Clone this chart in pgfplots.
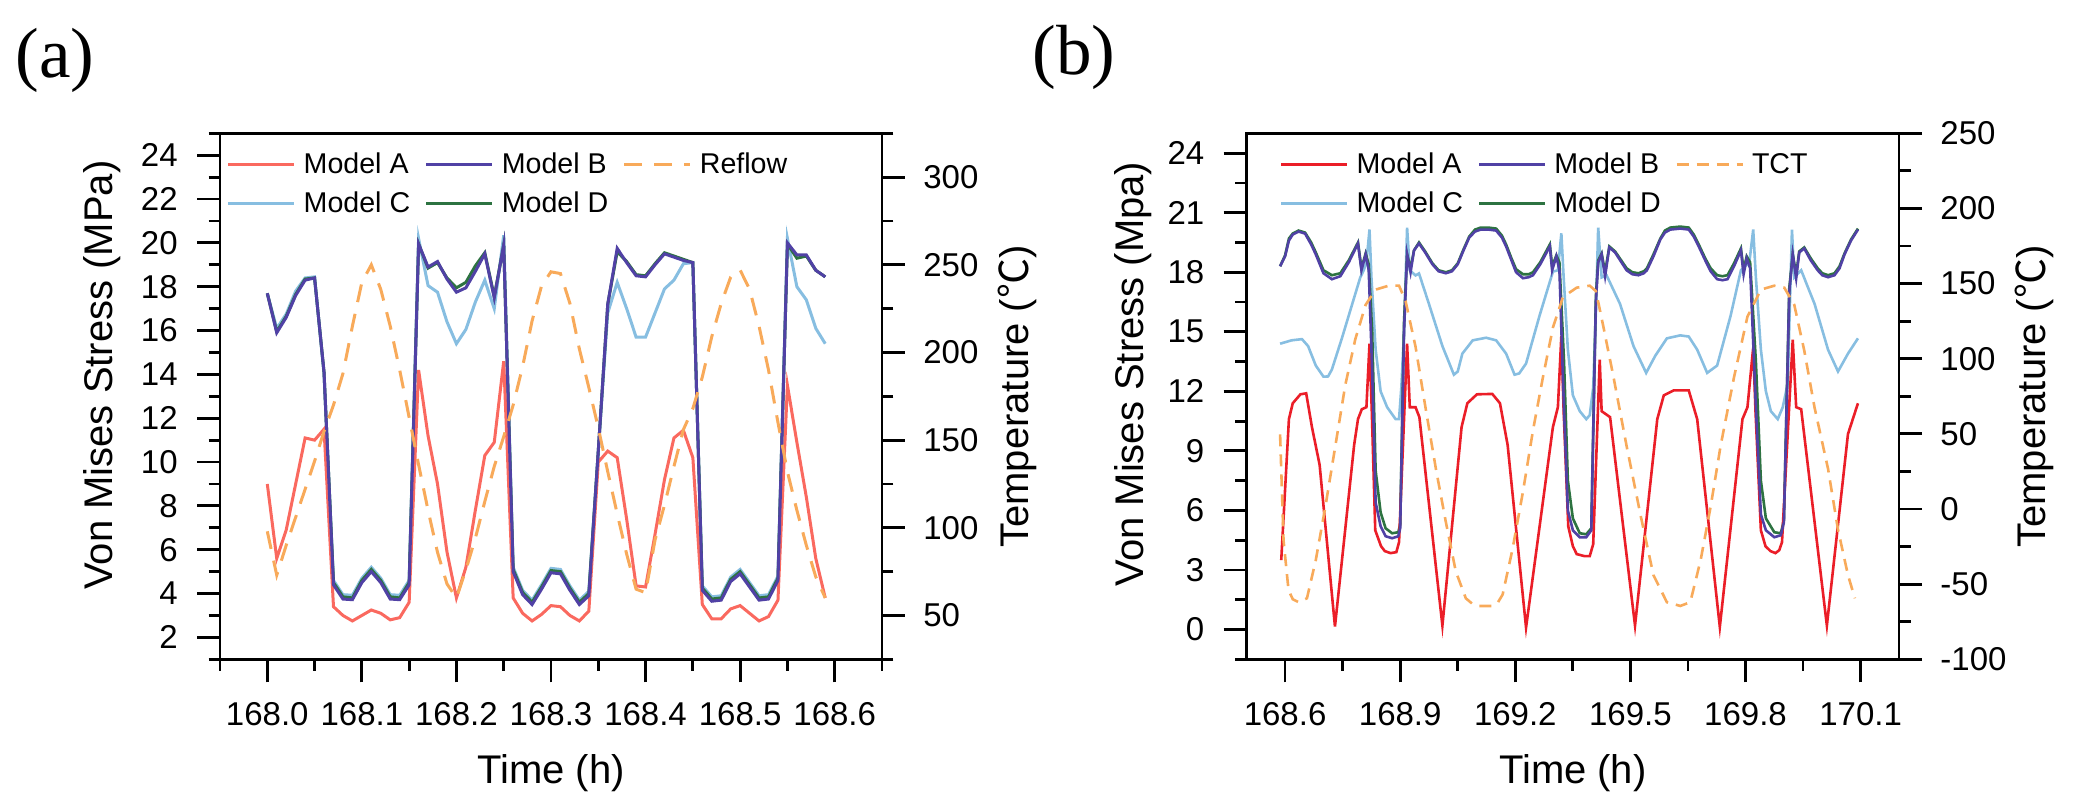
\documentclass[border=0pt]{standalone}
\usepackage{fontspec}
\setmainfont{Liberation Sans}
\newfontfamily\seriffont{Liberation Serif}
\newfontfamily\cjk{Noto Sans CJK SC}
\usepackage{pgfplots}
\pgfplotsset{compat=1.18}

\definecolor{cA}{RGB}{250,105,95}
\definecolor{cAb}{RGB}{235,30,40}
\definecolor{cB}{RGB}{80,65,165}
\definecolor{cC}{RGB}{135,190,225}
\definecolor{cD}{RGB}{45,115,65}
\definecolor{cT}{RGB}{248,170,90}

\pgfplotsset{
  common/.style={
    scale only axis, height=263pt,
    tick align=outside,
    major tick length=11.5pt, minor tick length=5.75pt,
    axis line style={line width=1.4pt},
    every tick/.style={line width=1.4pt, black},
    tick label style={font=\fontsize{16.5}{19.8}\selectfont},
    label style={font=\fontsize{20}{24}\selectfont, inner sep=0pt},
    legend image code/.code={\draw[#1] (0pt,0pt) -- (33pt,0pt);},
  },
  lgd/.style={
    legend columns=3,
    legend cell align=left,
    legend style={draw=none, fill=none, inner sep=0pt, outer sep=0pt,
      at={(axis description cs:0,1)}, anchor=north west, xshift=#1, yshift=-7.8pt,
      font=\fontsize{14.3}{17}\selectfont,
      nodes={inner sep=2pt},
      row sep=3.4pt,
      /tikz/every odd column/.append style={column sep=2pt},
      /tikz/every even column/.append style={column sep=5.3pt}},
  },
}

\begin{document}
\begin{tikzpicture}
\useasboundingbox (0,0) rectangle (1038.5pt,405pt);

% ---------------- panel (a) ----------------
\begin{axis}[common, at={(110pt,75.35pt)}, anchor=south west, width=331pt,
  xmin=167.95, xmax=168.65, ymin=1, ymax=25,
  xtick={168.0,168.1,168.2,168.3,168.4,168.5,168.6},
  xticklabels={168.0,168.1,168.2,168.3,168.4,168.5,168.6},
  minor xtick={167.95,168.05,168.15,168.25,168.35,168.45,168.55,168.65},
  ytick={2,4,6,8,10,12,14,16,18,20,22,24},
  yticklabels={2,4,6,8,10,12,14,16,18,20,22,24},
  minor ytick={1,3,5,7,9,11,13,15,17,19,21,23,25},
  xtick pos=bottom, ytick pos=left,
  xticklabel style={anchor=north, inner sep=0pt, yshift=-10pt},
  yticklabel style={anchor=east, inner sep=0pt, xshift=-9.5pt},
  xlabel={Time (h)}, ylabel={Von Mises Stress (MPa)},
  xlabel style={at={(axis description cs:0.5,-0.23517)}, anchor=base},
  ylabel style={at={(axis description cs:-0.16163,0.5405)}, anchor=base},
]
% Model C
\addplot[cC, line width=1.5pt] table {
168.00 17.7
168.01 16.1
168.02 16.75
168.03 17.8
168.04 18.4
168.05 18.45
168.06 14.0
168.07 4.6
168.08 3.95
168.09 3.92
168.10 4.7
168.11 5.2
168.12 4.7
168.13 3.95
168.14 3.92
168.15 4.6
168.16 20.2
168.17 18.05
168.18 17.75
168.19 16.4
168.20 15.4
168.21 16.05
168.22 17.3
168.23 18.3
168.24 17.0
168.25 20.35
168.26 5.2
168.27 4.15
168.28 3.7
168.29 4.4
168.30 5.15
168.31 5.1
168.32 4.35
168.33 3.7
168.34 4.1
168.35 10.5
168.36 16.8
168.37 18.2
168.38 17.0
168.39 15.7
168.40 15.7
168.41 16.8
168.42 17.9
168.43 18.3
168.44 19.05
168.45 19.1
168.46 4.35
168.47 3.85
168.48 3.9
168.49 4.75
168.50 5.1
168.51 4.5
168.52 3.9
168.53 3.95
168.54 4.8
168.55 20.2
168.56 18.0
168.57 17.4
168.58 16.1
168.59 15.4
};
% Model D
\addplot[cD, line width=1.5pt] table {
168.00 17.7
168.01 15.95
168.02 16.65
168.03 17.65
168.04 18.35
168.05 18.4
168.06 14.1
168.07 4.5
168.08 3.85
168.09 3.8
168.10 4.6
168.11 5.1
168.12 4.6
168.13 3.85
168.14 3.8
168.15 4.5
168.16 19.95
168.17 18.85
168.18 19.1
168.19 18.4
168.20 17.95
168.21 18.2
168.22 18.95
168.23 19.55
168.24 17.55
168.25 19.9
168.26 5.1
168.27 4.05
168.28 3.6
168.29 4.3
168.30 5.05
168.31 5.0
168.32 4.25
168.33 3.6
168.34 4.0
168.35 10.5
168.36 17.2
168.37 19.6
168.38 19.15
168.39 18.55
168.40 18.5
168.41 19.05
168.42 19.55
168.43 19.4
168.44 19.25
168.45 19.1
168.46 4.25
168.47 3.75
168.48 3.8
168.49 4.65
168.50 5.0
168.51 4.4
168.52 3.8
168.53 3.85
168.54 4.7
168.55 19.95
168.56 19.3
168.57 19.4
168.58 18.75
168.59 18.45
};
% Model A
\addplot[cA, line width=1.5pt] table {
168.00 9.0
168.01 5.6
168.02 6.9
168.03 9.0
168.04 11.1
168.05 11.0
168.06 11.5
168.07 3.4
168.08 3.0
168.09 2.75
168.10 3.0
168.11 3.25
168.12 3.1
168.13 2.8
168.14 2.9
168.15 3.6
168.16 14.2
168.17 11.2
168.18 9.0
168.19 5.9
168.20 3.8
168.21 5.2
168.22 7.8
168.23 10.3
168.24 10.9
168.25 14.6
168.26 3.8
168.27 3.1
168.28 2.75
168.29 3.05
168.30 3.45
168.31 3.4
168.32 3.0
168.33 2.75
168.34 3.2
168.35 10.0
168.36 10.5
168.37 10.2
168.38 7.4
168.39 4.35
168.40 4.3
168.41 6.7
168.42 9.2
168.43 11.1
168.44 11.45
168.45 10.2
168.46 3.5
168.47 2.85
168.48 2.85
168.49 3.3
168.50 3.45
168.51 3.1
168.52 2.75
168.53 2.95
168.54 3.7
168.55 13.5
168.56 10.9
168.57 8.4
168.58 5.6
168.59 3.8
};
% Model B
\addplot[cB, line width=1.5pt] table {
168.00 17.7
168.01 15.9
168.02 16.6
168.03 17.6
168.04 18.3
168.05 18.4
168.06 14.1
168.07 4.4
168.08 3.75
168.09 3.72
168.10 4.5
168.11 5.0
168.12 4.5
168.13 3.75
168.14 3.72
168.15 4.4
168.16 19.95
168.17 18.9
168.18 19.15
168.19 18.35
168.20 17.75
168.21 17.95
168.22 18.7
168.23 19.5
168.24 17.5
168.25 19.9
168.26 5.0
168.27 3.95
168.28 3.5
168.29 4.2
168.30 4.95
168.31 4.9
168.32 4.15
168.33 3.5
168.34 3.9
168.35 10.5
168.36 17.2
168.37 19.75
168.38 19.1
168.39 18.5
168.40 18.45
168.41 19.0
168.42 19.5
168.43 19.35
168.44 19.2
168.45 19.1
168.46 4.15
168.47 3.65
168.48 3.7
168.49 4.55
168.50 4.9
168.51 4.3
168.52 3.7
168.53 3.75
168.54 4.6
168.55 20.0
168.56 19.45
168.57 19.45
168.58 18.75
168.59 18.45
};
\end{axis}

\begin{axis}[common, at={(110pt,75.35pt)}, anchor=south west, width=331pt,
  xmin=167.95, xmax=168.65, ymin=25, ymax=325,
  axis x line=none, axis y line*=right,
  ytick={50,100,150,200,250,300},
  yticklabels={50,100,150,200,250,300},
  minor ytick={25,75,125,175,225,275,325},
  ytick pos=right,
  yticklabel style={anchor=west, inner sep=0pt, xshift=9pt},
  ylabel={Temperature ({\cjk ℃})},
  ylabel style={at={(axis description cs:1.22205,0.4995)}, anchor=base},
  lgd=3.35pt,
]
\addlegendimage{cA, line width=1.5pt}
\addlegendentry{Model A}
\addlegendimage{cB, line width=1.5pt}
\addlegendentry{Model B}
\addplot[cT, line width=1.5pt, dash pattern=on 9pt off 6pt] table {
168.00 98
168.01 73
168.02 90
168.03 106
168.04 122
168.05 138
168.06 155
168.07 170
168.08 188
168.09 215
168.10 240
168.11 250
168.12 236
168.13 215
168.14 190
168.15 163
168.16 136
168.17 110
168.18 86
168.19 68
168.20 60
168.21 76
168.22 94
168.23 115
168.24 135
168.25 152
168.26 170
168.27 192
168.28 218
168.29 238
168.30 246
168.31 245
168.32 228
168.33 202
168.34 180
168.35 157
168.36 132
168.37 108
168.38 85
168.39 65
168.40 63
168.41 93
168.42 113
168.43 135
168.44 156
168.45 168
168.46 186
168.47 209
168.48 228
168.49 243
168.50 247
168.51 236
168.52 215
168.53 190
168.54 160
168.55 132
168.56 110
168.57 90
168.58 72
168.59 60
};
\addlegendentry{Reflow}
\addlegendimage{cC, line width=1.5pt}
\addlegendentry{Model C}
\addlegendimage{cD, line width=1.5pt}
\addlegendentry{Model D}
\end{axis}

% ---------------- panel (b) ----------------
\begin{axis}[common, at={(623.35pt,75.35pt)}, anchor=south west, width=326.15pt,
  xmin=168.5, xmax=170.2, ymin=-1.5, ymax=25,
  xtick={168.6,168.9,169.2,169.5,169.8,170.1},
  xticklabels={168.6,168.9,169.2,169.5,169.8,170.1},
  minor xtick={168.75,169.05,169.35,169.65,169.95},
  ytick={0,3,6,9,12,15,18,21,24},
  yticklabels={0,3,6,9,12,15,18,21,24},
  minor ytick={-1.5,1.5,4.5,7.5,10.5,13.5,16.5,19.5,22.5},
  xtick pos=bottom, ytick pos=left,
  xticklabel style={anchor=north, inner sep=0pt, yshift=-10pt},
  yticklabel style={anchor=east, inner sep=0pt, xshift=-9.5pt},
  xlabel={Time (h)}, ylabel={Von Mises Stress (Mpa)},
  xlabel style={at={(axis description cs:0.5,-0.23517)}, anchor=base},
  ylabel style={at={(axis description cs:-0.15898,0.5424)}, anchor=base},
]
% Model C
\addplot[cC, line width=1.3pt] table {
168.587 14.4
168.617 14.57
168.644 14.63
168.66 14.28
168.68 13.3
168.70 12.74
168.712 12.75
168.722 13.1
168.748 14.67
168.775 16.4
168.796 17.74
168.805 18.1
168.812 18.5
168.82 20.15
168.825 17.74
168.836 14.1
168.849 12.0
168.866 11.2
168.888 10.6
168.897 10.6
168.903 12.2
168.91 15.0
168.918 20.25
168.925 18.1
168.94 17.84
168.949 17.94
168.975 16.4
169.01 14.28
169.04 12.84
169.05 13.0
169.062 13.9
169.089 14.57
169.124 14.7
169.15 14.57
169.176 13.9
169.198 12.84
169.21 12.9
169.228 13.4
169.263 15.8
169.298 18.03
169.311 18.1
169.32 19.96
169.326 17.74
169.337 14.1
169.35 11.8
169.368 11.0
169.385 10.6
169.394 10.8
169.403 12.2
169.41 16.0
169.416 20.25
169.425 17.74
169.438 17.84
169.473 16.4
169.508 14.28
169.541 12.93
169.565 13.8
169.595 14.67
169.63 14.82
169.652 14.76
169.674 14.1
169.70 12.93
169.726 13.3
169.761 15.8
169.788 18.1
169.81 18.5
169.82 20.15
169.827 17.74
169.84 14.1
169.853 12.0
169.866 11.0
169.884 10.6
169.897 11.2
169.91 12.4
169.921 20.15
169.927 17.74
169.945 18.1
169.98 16.4
170.015 14.1
170.041 13.0
170.067 13.9
170.093 14.67
};
% Model D
\addplot[cD, line width=1.3pt] table {
168.587 18.3
168.60 18.85
168.61 19.7
168.62 19.95
168.635 20.1
168.652 20.0
168.668 19.5
168.68 19.0
168.70 18.1
168.722 17.85
168.744 17.95
168.766 18.6
168.79 19.5
168.799 18.2
168.81 18.95
168.818 18.4
168.827 15.0
168.836 8.0
168.849 5.9
168.862 5.1
168.879 4.85
168.895 4.9
168.90 5.3
168.91 15.5
168.918 18.9
168.927 18.2
168.936 19.1
168.949 19.5
168.965 19.05
168.984 18.45
169.0 18.1
169.019 18.0
169.035 18.1
169.05 18.45
169.065 19.15
169.08 19.8
169.095 20.15
169.11 20.25
169.13 20.25
169.15 20.2
169.165 19.85
169.176 19.4
169.19 18.7
169.202 18.15
169.22 17.9
169.235 17.9
169.246 18.0
169.265 18.5
169.29 19.4
169.296 18.3
169.307 18.85
169.315 18.5
169.327 13.5
169.337 7.5
169.35 5.6
169.368 4.85
169.385 4.8
169.398 5.1
169.41 16.8
169.416 18.6
169.425 18.95
169.434 18.0
169.445 19.3
169.46 19.05
169.49 18.2
169.505 18.0
169.521 17.95
169.535 18.05
169.543 18.2
169.56 18.9
169.578 19.7
169.59 20.1
169.604 20.25
169.63 20.3
169.652 20.25
169.665 19.9
169.678 19.4
169.695 18.7
169.709 18.2
169.726 17.85
169.74 17.8
169.753 17.85
169.77 18.45
169.788 19.2
169.795 18.1
169.803 18.8
169.812 18.5
169.827 13.5
169.84 7.5
169.853 5.6
169.875 4.9
169.892 4.85
169.90 5.5
169.914 17.2
169.923 18.9
169.932 17.9
169.94 19.05
169.953 19.25
169.97 18.7
169.988 18.2
170.0 17.95
170.015 17.85
170.032 17.95
170.045 18.3
170.058 18.95
170.075 19.65
170.093 20.2
};
% Model A
\addplot[cAb, line width=1.3pt] table {
168.59 3.5
168.61 10.6
168.62 11.4
168.64 11.85
168.655 11.9
168.67 10.2
168.69 8.3
168.73 0.15
168.78 9.3
168.79 10.6
168.80 11.1
168.812 11.2
168.82 14.4
168.826 11.0
168.835 5.0
168.85 4.2
168.86 3.95
168.875 3.85
168.89 3.9
168.897 4.4
168.918 14.4
168.925 11.2
168.94 11.2
168.95 10.7
169.01 0.2
169.06 10.2
169.075 11.4
169.10 11.85
169.14 11.87
169.16 11.4
169.18 9.3
169.228 0.1
169.298 10.2
169.311 11.2
169.32 14.8
169.326 11.0
169.338 5.2
169.35 4.2
169.36 3.8
169.38 3.7
169.394 3.7
169.403 4.3
169.42 13.6
169.425 11.0
169.447 10.7
169.512 0.2
169.57 10.6
169.587 11.8
169.613 12.05
169.652 12.05
169.674 10.6
169.733 0.13
169.792 10.6
169.805 11.2
169.82 14.2
169.826 11.0
169.84 5.0
169.852 4.2
169.865 3.95
169.878 3.85
169.888 4.0
169.895 4.4
169.923 14.6
169.932 11.2
169.945 11.1
170.012 0.2
170.067 9.85
170.093 11.4
};
% Model B
\addplot[cB, line width=1.3pt] table {
168.587 18.3
168.60 18.8
168.61 19.6
168.62 19.9
168.635 20.05
168.652 19.95
168.668 19.4
168.68 18.9
168.70 17.95
168.722 17.65
168.744 17.8
168.766 18.5
168.79 19.45
168.799 18.1
168.81 18.9
168.818 18.1
168.827 13.0
168.836 6.4
168.849 5.2
168.862 4.7
168.879 4.6
168.895 4.7
168.90 5.1
168.91 15.0
168.918 18.9
168.927 18.0
168.936 19.1
168.949 19.45
168.965 19.0
168.984 18.4
169.0 18.05
169.019 17.95
169.035 18.05
169.05 18.4
169.065 19.1
169.08 19.75
169.095 20.05
169.11 20.15
169.13 20.15
169.15 20.1
169.165 19.75
169.176 19.3
169.19 18.6
169.202 18.0
169.22 17.7
169.235 17.75
169.246 17.85
169.265 18.4
169.29 19.3
169.296 18.1
169.307 18.8
169.315 18.1
169.327 11.0
169.337 6.0
169.35 5.0
169.368 4.65
169.385 4.65
169.398 5.0
169.41 16.5
169.416 18.5
169.425 18.9
169.434 17.8
169.445 19.25
169.46 19.0
169.49 18.1
169.505 17.9
169.521 17.85
169.535 17.95
169.543 18.1
169.56 18.8
169.578 19.65
169.59 20.0
169.604 20.15
169.63 20.2
169.652 20.15
169.665 19.8
169.678 19.3
169.695 18.6
169.709 18.05
169.726 17.65
169.74 17.6
169.753 17.65
169.77 18.3
169.788 19.1
169.795 17.9
169.803 18.7
169.812 18.2
169.827 11.2
169.84 5.8
169.853 5.0
169.875 4.65
169.892 4.75
169.90 5.4
169.914 17.0
169.923 18.9
169.932 17.7
169.94 19.0
169.953 19.2
169.97 18.6
169.988 18.1
170.0 17.85
170.015 17.75
170.032 17.85
170.045 18.2
170.058 18.9
170.075 19.6
170.093 20.15
};
\end{axis}

\begin{axis}[common, at={(623.35pt,75.35pt)}, anchor=south west, width=326.15pt,
  xmin=168.5, xmax=170.2, ymin=-100, ymax=250,
  axis x line=none, axis y line*=right,
  ytick={-100,-50,0,50,100,150,200,250},
  yticklabels={-100,-50,0,50,100,150,200,250},
  minor ytick={-75,-25,25,75,125,175,225},
  ytick pos=right,
  yticklabel style={anchor=west, inner sep=0pt, xshift=9pt},
  ylabel={Temperature ({\cjk ℃})},
  ylabel style={at={(axis description cs:1.2238,0.4995)}, anchor=base},
  lgd=16.65pt,
]
\addlegendimage{cAb, line width=1.3pt}
\addlegendentry{Model A}
\addlegendimage{cB, line width=1.3pt}
\addlegendentry{Model B}
\addplot[cT, line width=1.3pt, dash pattern=on 6pt off 4pt] table {
168.587 49.7
168.596 -21
168.609 -54
168.62 -60
168.635 -62
168.657 -59.4
168.68 -34
168.705 1.5
168.731 42
168.757 82.6
168.783 113
168.81 135.9
168.836 146
168.87 148.6
168.897 148.6
168.914 138.4
168.94 108
168.966 67.4
168.993 26.8
169.019 -8.7
169.045 -41.6
169.071 -59.4
169.09 -63.5
169.106 -64.5
169.141 -64.5
169.155 -62
169.167 -56.9
169.193 -26.4
169.22 11.6
169.246 52.2
169.272 87.7
169.298 120.7
169.324 141
169.36 147.3
169.394 148.6
169.41 145
169.425 127
169.456 87.7
169.49 42
169.526 -3.6
169.56 -44
169.595 -62
169.63 -64.5
169.656 -62
169.683 -34
169.709 1.5
169.735 42
169.77 87.7
169.805 128
169.84 146
169.875 148.6
169.901 147.3
169.927 135.9
169.953 105.5
169.98 67.4
170.015 26.8
170.041 -13.7
170.067 -44
170.085 -59.4
};
\addlegendentry{TCT}
\addlegendimage{cC, line width=1.3pt}
\addlegendentry{Model C}
\addlegendimage{cD, line width=1.3pt}
\addlegendentry{Model D}
\end{axis}

\node[anchor=base west, inner sep=0pt] at (7.5pt,366.3pt) {\seriffont\fontsize{35.5}{40}\selectfont (a)};
\node[anchor=base west, inner sep=0pt] at (516pt,367.8pt) {\seriffont\fontsize{35.5}{40}\selectfont (b)};
\end{tikzpicture}
\end{document}
